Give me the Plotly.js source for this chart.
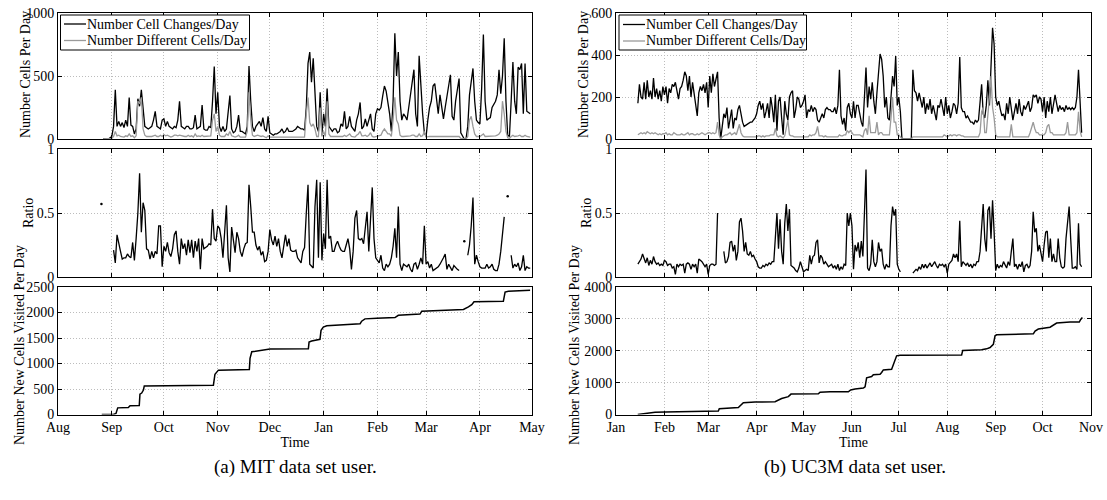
<!DOCTYPE html>
<html>
<head>
<meta charset="utf-8">
<script src="https://cdn.plot.ly/plotly-3.0.1.min.js"></script>
<style>html,body{margin:0;padding:0;background:#fff;}#chart{width:1107px;height:500px;}</style>
</head>
<body>
<div id="chart"></div>
<script>
// ---------------- DATA ----------------
// MIT user (day offsets counted from mitAxisStart)
const mitAxisStart = '2004-08-01';
const mitAxisEnd = '2005-05-01';
const mitFirstDay = 26; // first daily value is Aug 27
const mitChanges = [
0,0,0,0,10,
20,100,390,100,140,100,130,90,150,100,
330,110,100,40,80,320,260,390,220,100,
90,80,90,100,150,220,100,90,80,150,
160,100,140,100,90,80,100,90,150,300,
100,90,80,100,100,80,80,90,190,80,
90,100,270,80,70,70,100,90,300,575,
200,370,100,60,100,60,80,200,345,80,
50,60,100,190,60,60,50,40,100,580,
300,100,60,100,120,140,100,170,80,60,
180,50,40,30,40,40,50,60,80,50,
60,90,60,60,60,70,80,100,90,80,
80,70,250,600,690,450,640,400,100,60,
370,30,200,100,400,100,80,60,80,80,
50,60,120,100,220,80,100,180,100,80,
60,150,200,290,80,100,160,100,150,200,
80,60,200,240,230,250,340,420,380,300,
200,60,300,840,500,690,300,150,200,180,
150,250,350,450,550,200,100,660,400,200,
50,20,150,250,300,420,440,300,200,350,
250,160,250,350,420,510,180,150,300,400,
480,50,20,0,0,100,350,450,560,300,
150,130,120,400,830,300,150,160,170,250,
270,300,350,550,360,500,800,300,30,20,
300,610,300,200,570,550,600,200,600,220,
210,200];
const mitDifferent = [
0,0,0,0,0,
5,20,60,25,30,20,20,15,25,20,
40,20,25,10,25,300,280,330,80,30,
20,20,15,20,25,30,20,20,30,20,
35,25,30,20,15,20,30,30,25,30,
25,20,20,20,30,20,25,15,40,20,
25,20,30,20,20,20,25,25,150,200,
60,100,30,20,20,20,40,30,60,25,
20,15,20,30,15,15,20,15,60,370,
150,30,20,25,30,25,20,25,15,10,
25,15,15,15,15,15,15,15,15,15,
15,20,15,15,15,15,15,15,15,15,
15,15,200,330,130,100,120,80,20,20,
250,20,60,20,300,40,20,20,20,20,
15,15,20,20,30,20,30,40,20,20,
15,30,40,60,25,25,30,20,30,50,
20,15,20,25,30,30,60,80,60,40,
40,20,150,330,150,120,30,20,20,20,
20,20,25,30,30,20,20,40,20,25,
60,15,20,20,20,20,25,20,20,20,
20,20,20,20,25,25,20,20,20,20,
20,5,0,0,0,20,150,180,100,40,
20,20,20,30,40,20,20,20,20,20,
20,25,30,40,60,300,200,60,10,5,
20,30,20,20,25,30,20,20,30,20,
20,15];
const mitRatio = [
null,null,null,null,null,null,
0.21,0.11,0.33,0.25,0.2,0.14,0.15,0.15,0.18,
0.16,0.15,0.27,0.13,0.3,0.5,0.81,0.35,0.58,0.52,
0.22,0.21,0.14,0.2,0.15,0.2,0.18,0.4,0.4,0.08,
0.24,0.2,0.27,0.19,0.16,0.22,0.33,0.36,0.2,0.1,
0.3,0.22,0.26,0.17,0.29,0.19,0.29,0.15,0.28,0.2,
0.3,0.06,0.3,0.22,0.23,0.24,0.26,0.25,0.53,0.3,
0.28,0.4,0.38,0.3,0.15,0.35,0.56,0.15,0.04,0.39,
0.3,0.19,0.35,0.3,0.2,0.16,0.22,0.26,0.27,0.72,
0.55,0.35,0.35,0.25,0.21,0.24,0.17,0.2,0.12,0.13,
0.2,0.37,0.29,0.25,0.32,0.24,0.3,0.2,0.15,0.25,
0.33,0.24,0.3,0.21,0.2,0.2,0.21,0.15,0.13,0.11,
0.2,0.23,0.5,0.72,0.1,0.08,0.07,0.55,0.76,0.15,
0.74,0.13,0.34,0.22,0.76,0.3,0.32,0.2,0.2,0.25,
0.28,0.24,0.21,0.2,0.2,0.25,0.3,0.22,0.06,0.2,
0.46,0.52,0.3,0.29,0.3,0.26,0.4,0.51,0.2,0.45,
0.7,0.3,0.15,0.13,0.11,0.17,0.07,0.05,0.1,0.08,
0.1,0.15,0.24,0.38,0.15,0.55,0.1,0.05,0.1,0.09,
0.08,0.1,0.06,0.04,0.1,0.11,0.06,0.1,0.15,0.1,
0.4,0.1,0.12,0.07,0.1,0.05,0.06,0.07,0.08,0.1,
0.12,0.15,0.18,0.06,0.1,0.08,0.05,0.09,0.07,0.06,
0.05,null,null,null,null,0.17,0.25,0.4,0.62,0.1,
0.17,0.12,0.08,0.07,0.07,0.07,0.1,0.07,0.08,0.1,
0.06,0.05,0.05,0.1,0.2,0.35,0.47,null,null,null,
0.17,0.07,0.1,0.08,0.11,0.05,0.08,0.17,0.05,0.08,
0.07,0.07];
const mitRatioDotDay = [25, 234, 259];
const mitRatioDotValue = [0.57, 0.28, 0.63];
const mitNewDay = [25.2,31.9,33.4,34.4,40.5,41.5,46.8,47.2,48.2,49.2,49.7,89.5,90.4,92.4,110.2,110.6,111.6,116.4,120.2,
  122.1,144.2,144.6,146.1,150.9,151.5,152.8,154.8,166.3,174,174.9,176.8,183.6,194.1,196,208.5,209.5,218.1,233.5,236.4,238.3,239.6,256.5,257.5,259.4,271.9];
const mitNewCells = [0,0,20,130,135,170,175,400,420,480,560,575,790,870,880,1100,1230,1260,1280,
  1282,1290,1420,1440,1475,1650,1715,1740,1760,1780,1830,1875,1885,1900,1945,1970,2025,2035,2060,2110,2155,2210,2220,2400,2415,2435];
const mitMonthTicks = ['2004-08-01','2004-09-01','2004-10-01','2004-11-01','2004-12-01','2005-01-01','2005-02-01','2005-03-01','2005-04-01','2005-05-01'];
const mitMonthLabels = ['Aug','Sep','Oct','Nov','Dec','Jan','Feb','Mar','Apr','May'];

// UC3M user (day offsets counted from uc3mAxisStart)
const uc3mAxisStart = '2007-01-01';
const uc3mAxisEnd = '2007-11-01';
const uc3mFirstDay = 14; // first daily value is Jan 15
const uc3mChanges = [
170,260,200,190,270,190,280,
200,230,190,290,200,240,190,230,180,250,
210,250,170,240,220,260,250,270,220,190,
240,250,280,320,300,230,300,200,270,210,
170,110,220,250,230,260,220,270,150,300,
220,310,250,290,320,100,0,60,120,100,
150,50,90,140,50,100,90,140,160,110,
80,60,65,70,75,80,80,90,100,120,
160,180,140,170,100,130,170,100,200,150,
80,210,40,180,200,100,20,180,120,90,
200,220,230,100,140,200,190,150,160,180,
210,100,140,130,160,130,150,140,90,80,
100,120,100,140,150,140,140,130,130,150,
120,160,330,110,70,100,40,150,170,120,
100,180,100,160,160,110,80,60,200,340,
150,250,190,270,180,120,220,330,405,380,
300,150,200,100,90,200,300,250,395,160,
200,130,0,0,0,0,0,0,0,330,
230,220,180,220,180,150,200,120,170,140,
190,120,160,130,90,160,150,190,140,110,
200,120,160,100,130,170,160,120,170,390,
150,130,130,100,110,90,80,80,70,90,
80,90,180,260,120,100,160,280,160,350,
530,450,200,160,180,140,110,120,90,170,
120,200,150,90,130,170,120,190,130,110,
160,140,160,180,130,150,210,200,210,170,
200,190,130,200,100,180,130,200,120,170,
210,170,130,160,140,150,130,160,140,150,
140,150,140,150,200,330,150,30];
const uc3mDifferent = [
20,25,30,25,30,25,35,
30,25,30,25,30,25,20,25,20,25,
25,30,20,25,20,20,30,25,20,20,
20,25,20,20,25,30,20,25,25,20,
20,25,20,25,30,25,20,25,30,30,
25,30,25,30,80,20,0,10,15,20,
20,25,30,20,25,30,20,50,70,30,
15,10,10,10,10,10,10,10,10,10,
15,15,10,15,10,15,15,15,20,20,
20,50,15,10,15,10,5,15,50,90,
20,15,15,10,10,10,10,10,10,10,
10,10,10,20,15,20,20,30,60,15,
15,15,10,15,10,10,10,10,10,10,
10,10,20,15,15,20,20,40,30,40,
30,20,20,20,20,20,15,10,40,50,
20,110,30,30,30,30,80,20,30,30,
20,20,20,20,20,100,200,80,80,20,
20,10,0,0,0,0,0,0,0,10,
10,10,10,10,10,10,10,10,10,10,
10,10,10,10,10,10,10,10,10,20,
15,10,15,20,15,20,20,15,20,20,
15,15,10,10,10,10,10,10,10,10,
10,10,30,130,150,30,30,100,200,300,
150,100,20,10,10,10,10,10,10,10,
10,10,70,10,10,10,10,10,10,10,
10,10,10,10,30,60,80,50,30,30,
20,20,20,20,30,60,70,30,30,20,
20,20,20,20,20,20,20,30,80,20,
20,20,20,20,30,130,40,10];
const uc3mRatio = [
0.1,0.12,0.14,0.18,0.14,0.11,0.15,
0.09,0.13,0.1,0.16,0.12,0.1,0.11,0.09,0.1,0.09,
0.13,0.12,0.09,0.1,0.1,0.07,0.08,0.02,0.1,0.08,
0.1,0.09,0.1,0.03,0.1,0.11,0.1,0.06,0.1,0.08,
0.1,0.03,0.14,0.13,0.12,0.1,0.08,0.1,0.02,0.09,
0.1,0.1,0.09,0.1,0.5,null,null,null,0.2,0.11,
0.12,0.16,0.27,0.28,0.2,0.25,0.13,0.2,0.43,0.46,
0.36,0.2,0.27,0.18,0.17,0.2,0.16,0.17,0.14,0.12,
0.08,0.07,0.07,0.09,0.08,0.1,0.09,0.11,0.1,0.12,
0.12,0.3,0.5,0.22,0.45,0.2,0.1,0.42,0.57,0.36,
0.53,0.09,0.08,0.07,0.05,0.04,0.07,0.12,0.08,0.04,
0.05,0.06,0.05,0.17,0.1,0.16,0.17,0.27,0.29,0.11,
0.17,0.15,0.1,0.12,0.1,0.08,0.09,0.1,0.07,0.09,
0.06,0.1,0.05,0.08,0.06,0.1,0.09,0.5,0.4,0.5,
0.4,0.06,0.25,0.2,0.27,0.15,0.28,0.16,0.5,0.84,
0.07,0.05,0.1,0.29,0.12,0.08,0.12,0.27,0.2,0.22,
0.1,0.06,0.1,0.08,0.08,0.4,0.55,0.48,0.53,0.1,
0.06,0.04,null,null,null,null,null,null,null,0.03,
0.05,0.06,0.05,0.08,0.06,0.1,0.07,0.1,0.07,0.09,
0.11,0.08,0.1,0.12,0.09,0.07,0.1,0.09,0.1,0.08,
0.1,0.03,0.1,0.12,0.13,0.18,0.15,0.18,0.12,0.44,
0.08,0.12,0.1,0.09,0.11,0.08,0.1,0.07,0.1,0.09,
0.12,0.12,0.2,0.4,0.57,0.3,0.2,0.52,0.55,0.3,
0.6,0.35,0.05,0.1,0.07,0.09,0.08,0.12,0.1,0.07,
0.12,0.09,0.2,0.3,0.08,0.1,0.06,0.1,0.08,0.12,
0.04,0.09,0.1,0.07,0.09,0.2,0.51,0.35,0.38,0.2,
0.25,0.18,0.12,0.25,0.35,0.36,0.15,0.3,0.12,0.18,
0.12,0.12,0.3,0.15,0.08,0.07,0.08,0.3,0.45,0.55,
0.3,0.07,0.07,0.08,0.06,0.42,0.1,0.08];
const uc3mNewDay = [13.9,16.4,20.7,25,31.4,46.3,57,65.5,66.1,71.9,78.3,81.5,89,101.8,106,110.3,112,129.5,130.6,
  137,148.7,150.2,153,158.3,159.4,160.4,163.6,164.7,169,170,171.1,176.4,177.9,179.6,181.8,201,221.2,221.9,234,237.2,239.4,241.5,242.6,243.6,254.3,267.1,268.2,270.3,277.8,282,290.6,296.5,297.4,298.5];
const uc3mNewCells = [0,20,50,70,80,90,100,110,180,200,220,370,390,400,500,560,640,650,700,
  710,710,770,800,830,870,1150,1190,1250,1260,1320,1400,1420,1600,1840,1860,1865,1870,2010,2030,2060,2100,2200,2470,2500,2520,2530,2620,2680,2740,2870,2900,2900,2980,3040];
const uc3mMonthTicks = ['2007-01-01','2007-02-01','2007-03-01','2007-04-01','2007-05-01','2007-06-01','2007-07-01','2007-08-01','2007-09-01','2007-10-01','2007-11-01'];
const uc3mMonthLabels = ['Jan','Feb','Mar','Apr','May','Jun','Jul','Aug','Sep','Oct','Nov'];

const seriesNames = ['Number Cell Changes/Day', 'Number Different Cells/Day'];
const yTitles = ['Number Cells Per Day', 'Ratio', 'Number New Cells Visited Per Day'];
const captions = ['(a) MIT data set user.', '(b) UC3M data set user.'];

// ---------------- HELPERS ----------------
function dateAt(start, dayOffset) {
  const t = Date.parse(start + 'T00:00:00Z') + dayOffset * 86400000;
  return new Date(t).toISOString().slice(0, 19).replace('T', ' ');
}
function dailyDates(start, firstDay, n) {
  const out = [];
  for (let i = 0; i < n; i++) out.push(dateAt(start, firstDay + i));
  return out;
}

const FONT = '"Liberation Serif", "Times New Roman", serif';
const BLACK = '#000000';
const GRAY = '#9a9a9a';
const LW = 1.3;
const GRID = '#bcbcbc';
const GRIDDASH = '1px,2px';
const FS = 14;

const mitX = dailyDates(mitAxisStart, mitFirstDay, mitChanges.length);
const ucX = dailyDates(uc3mAxisStart, uc3mFirstDay, uc3mChanges.length);

const traces = [
  // MIT top
  {x: mitX, y: mitChanges, xaxis: 'x', yaxis: 'y', mode: 'lines', name: seriesNames[0], line: {color: BLACK, width: LW}, showlegend: false},
  {x: mitX, y: mitDifferent, xaxis: 'x', yaxis: 'y', mode: 'lines', name: seriesNames[1], line: {color: GRAY, width: LW}, showlegend: false},
  // MIT ratio
  {x: mitX, y: mitRatio, xaxis: 'x2', yaxis: 'y2', mode: 'lines', line: {color: BLACK, width: LW}, showlegend: false, connectgaps: false},
  {x: mitRatioDotDay.map(d => dateAt(mitAxisStart, d)), y: mitRatioDotValue, xaxis: 'x2', yaxis: 'y2', mode: 'markers', marker: {color: BLACK, size: 2.5}, showlegend: false},
  // MIT cumulative
  {x: mitNewDay.map(d => dateAt(mitAxisStart, d)), y: mitNewCells, xaxis: 'x3', yaxis: 'y3', mode: 'lines', line: {color: BLACK, width: LW + 0.2}, showlegend: false},
  // UC3M top
  {x: ucX, y: uc3mChanges, xaxis: 'x4', yaxis: 'y4', mode: 'lines', name: seriesNames[0], line: {color: BLACK, width: LW}, showlegend: false},
  {x: ucX, y: uc3mDifferent, xaxis: 'x4', yaxis: 'y4', mode: 'lines', name: seriesNames[1], line: {color: GRAY, width: LW}, showlegend: false},
  // UC3M ratio
  {x: ucX, y: uc3mRatio, xaxis: 'x5', yaxis: 'y5', mode: 'lines', line: {color: BLACK, width: LW}, showlegend: false, connectgaps: false},
  // UC3M cumulative
  {x: uc3mNewDay.map(d => dateAt(uc3mAxisStart, d)), y: uc3mNewCells, xaxis: 'x6', yaxis: 'y6', mode: 'lines', line: {color: BLACK, width: LW + 0.2}, showlegend: false}
];

const W = 1107, H = 500;
const px = v => v / W;
const py = v => 1 - v / H;
const leftDom = [px(58), px(532)];
const rightDom = [px(616), px(1091)];
const topDom = [py(139), py(13)];
const midDom = [py(277), py(149)];
const botDom = [py(414.5), py(287)];

const tickFont = {family: FONT, size: FS, color: '#000'};
const titleFont = {family: FONT, size: FS, color: '#000'};

function xAx(dom, anchor, range, tv, tt, showLabels, title) {
  const a = {
    domain: dom, anchor: anchor, type: 'date', range: range,
    tickmode: 'array', tickvals: tv, ticktext: tt,
    showticklabels: showLabels, ticks: 'inside', ticklen: 4, tickcolor: '#000',
    mirror: 'ticks', showline: true, linecolor: '#000', linewidth: 1,
    showgrid: true, gridcolor: GRID, griddash: GRIDDASH, gridwidth: 1,
    zeroline: false, tickfont: tickFont, automargin: false
  };
  if (title) a.title = {text: title, font: titleFont, standoff: 0};
  return a;
}
function yAx(dom, anchor, range, dtick) {
  return {
    domain: dom, anchor: anchor, range: range, dtick: dtick, tick0: 0,
    ticks: 'inside', ticklen: 4, tickcolor: '#000',
    mirror: 'ticks', showline: true, linecolor: '#000', linewidth: 1,
    showgrid: true, gridcolor: GRID, griddash: GRIDDASH, gridwidth: 1,
    zeroline: false, tickfont: tickFont, automargin: false
  };
}

const mitRange = [mitAxisStart, mitAxisEnd];
const ucRange = [uc3mAxisStart, uc3mAxisEnd];

// vertical axis titles placed beside each panel
function yTitle(text, cx, cy) {
  return {text: text, xref: 'paper', yref: 'paper', x: px(cx), y: py(cy), xanchor: 'center', yanchor: 'middle',
    textangle: -90, showarrow: false, borderpad: 0, font: titleFont};
}

// legend drawn as a boxed key (box, sample lines, labels)
function legendKey(left, right, top, bottom, lineX0, lineX1, textX, rowY) {
  const shapes = [
    {type: 'rect', xref: 'paper', yref: 'paper', x0: px(left), x1: px(right), y0: py(bottom), y1: py(top),
     line: {color: '#000', width: 1}, fillcolor: '#ffffff', layer: 'above'}
  ];
  const colors = [BLACK, GRAY];
  const ann = [];
  for (let i = 0; i < 2; i++) {
    shapes.push({type: 'line', xref: 'paper', yref: 'paper', x0: px(lineX0), x1: px(lineX1), y0: py(rowY[i]), y1: py(rowY[i]),
      line: {color: colors[i], width: LW}, layer: 'above'});
    ann.push({text: seriesNames[i], xref: 'paper', yref: 'paper', x: px(textX), y: py(rowY[i]), xanchor: 'left', yanchor: 'middle',
      showarrow: false, borderpad: 0, font: {family: FONT, size: FS, color: '#000'}});
  }
  return {shapes, ann};
}
const keyLeft = legendKey(60.5, 249.5, 15, 50, 64, 86, 86, [24, 40.5]);
const keyRight = legendKey(619, 806.5, 15, 50, 623, 645, 645, [24.5, 41]);

const layout = {
  width: W, height: H,
  margin: {l: 0, r: 0, t: 0, b: 0},
  paper_bgcolor: '#ffffff', plot_bgcolor: '#ffffff',
  font: {family: FONT, size: FS, color: '#000'},
  showlegend: false,
  xaxis: xAx(leftDom, 'y', mitRange, mitMonthTicks, mitMonthLabels, false),
  xaxis2: xAx(leftDom, 'y2', mitRange, mitMonthTicks, mitMonthLabels, false),
  xaxis3: xAx(leftDom, 'y3', mitRange, mitMonthTicks, mitMonthLabels, true, 'Time'),
  xaxis4: xAx(rightDom, 'y4', ucRange, uc3mMonthTicks, uc3mMonthLabels, false),
  xaxis5: xAx(rightDom, 'y5', ucRange, uc3mMonthTicks, uc3mMonthLabels, false),
  xaxis6: xAx(rightDom, 'y6', ucRange, uc3mMonthTicks, uc3mMonthLabels, true, 'Time'),
  yaxis: yAx(topDom, 'x', [0, 1000], 500),
  yaxis2: yAx(midDom, 'x2', [0, 1], 0.5),
  yaxis3: yAx(botDom, 'x3', [0, 2500], 500),
  yaxis4: yAx(topDom, 'x4', [0, 600], 200),
  yaxis5: yAx(midDom, 'x5', [0, 1], 0.5),
  yaxis6: yAx(botDom, 'x6', [0, 4000], 1000),
  shapes: keyLeft.shapes.concat(keyRight.shapes),
  annotations: keyLeft.ann.concat(keyRight.ann).concat([
    yTitle(yTitles[0], 25, 75), yTitle(yTitles[1], 29, 213), yTitle(yTitles[2], 19, 345),
    yTitle(yTitles[0], 583, 75), yTitle(yTitles[1], 587, 213), yTitle(yTitles[2], 574, 345),
    {text: captions[0], xref: 'paper', yref: 'paper', x: px(295), y: py(467), xanchor: 'center', yanchor: 'middle', showarrow: false, font: {family: FONT, size: 19, color: '#000'}},
    {text: captions[1], xref: 'paper', yref: 'paper', x: px(855), y: py(467), xanchor: 'center', yanchor: 'middle', showarrow: false, font: {family: FONT, size: 19, color: '#000'}}
  ])
};

Plotly.newPlot('chart', traces, layout, {staticPlot: true, displayModeBar: false});
</script>
</body>
</html>
